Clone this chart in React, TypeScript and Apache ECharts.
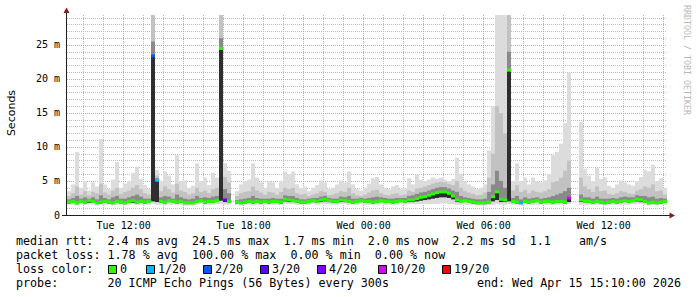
import React, { useEffect, useRef } from "react";
import * as echarts from "echarts";

// ---- time base: minutes relative to Tue 12:00, one sample every 12 min ----
const STEP_MIN = 12;
const FIRST_SAMPLE_MIN = -170; // Tue 09:10
const X_MIN = -170;
const X_MAX = 1630; // Wed 15:10
const Y_MAX = 29.41;

// ---- round-trip times (ms) ----
const rttMedian = [
  1.9, 2.0, 1.8, 2.0, 1.9, 2.1, 2.0, 1.8, 1.9, 2.0,
  1.9, 1.8, 2.0, 1.9, 1.8, 2.0, 2.1, 1.9, 2.0, 1.9,
  2.0, 23.4, 5.1, 2.0, 1.9, 2.1, 2.0, 1.9, 2.0, 1.8,
  1.8, 1.8, 2.0, 2.1, 1.9, 2.0, 2.0, 2.1, 24.5, 2.2,
  2.0, null, 1.9, 1.8, 1.9, 2.0, 1.9, 2.0, 1.9, 2.0,
  1.9, 2.0, 2.0, 1.9, 2.3, 2.2, 2.1, 2.0, 1.9, 1.9,
  2.0, 2.1, 2.0, 2.2, 2.3, 2.1, 2.0, 2.0, 2.2, 2.1,
  2.0, 1.9, 2.0, 2.1, 2.0, 2.0, 1.9, 2.0, 2.1, 2.0,
  2.0, 1.9, 2.0, 2.1, 2.0, 2.2, 2.2, 2.4, 2.6, 2.7,
  2.9, 3.1, 3.3, 3.4, 3.4, 3.2, 2.8, 2.2, 2.0, 2.1,
  2.0, 1.9, 1.8, 1.8, 1.8, 1.9, 2.7, 3.4, 2.3, 2.2,
  21.3, 2.0, 1.9, 1.8, 2.0, 1.9, 2.0, 2.1, 1.9, 2.0,
  2.0, 1.9, 2.0, 2.0, 1.9, 2.5, null, null, 2.2, 2.0,
  2.0, 1.9, 2.0, 1.9, 1.8, 1.9, 2.0, 1.9, 2.0, 2.1,
  2.0, 2.1, 2.3, 2.2, 2.0, 1.8, 1.9, 1.8, 1.9, 2.0,
];
const rttMin = [
  1.5, 1.5, 1.4, 1.5, 1.5, 1.6, 1.5, 1.4, 1.5, 1.5,
  1.5, 1.4, 1.5, 1.5, 1.4, 1.5, 1.6, 1.5, 1.5, 1.5,
  1.5, 1.6, 1.5, 1.5, 1.4, 1.5, 1.5, 1.5, 1.5, 1.4,
  1.4, 1.4, 1.5, 1.6, 1.5, 1.5, 1.5, 1.6, 1.6, 1.5,
  1.5, null, 1.5, 1.4, 1.5, 1.5, 1.4, 1.5, 1.5, 1.5,
  1.5, 1.5, 1.5, 1.5, 1.6, 1.6, 1.6, 1.5, 1.5, 1.5,
  1.5, 1.6, 1.5, 1.6, 1.6, 1.6, 1.5, 1.5, 1.6, 1.6,
  1.5, 1.5, 1.5, 1.6, 1.5, 1.5, 1.5, 1.5, 1.6, 1.5,
  1.5, 1.5, 1.5, 1.6, 1.5, 1.6, 1.6, 1.6, 1.6, 1.6,
  1.6, 1.6, 1.6, 1.7, 1.7, 1.6, 1.6, 1.5, 1.5, 1.5,
  1.5, 1.5, 1.4, 1.4, 1.4, 1.5, 1.5, 1.6, 1.5, 1.5,
  1.6, 1.5, 1.5, 1.4, 1.5, 1.5, 1.5, 1.5, 1.5, 1.5,
  1.5, 1.5, 1.5, 1.5, 1.5, 1.6, null, null, 1.5, 1.5,
  1.5, 1.5, 1.5, 1.5, 1.4, 1.5, 1.5, 1.5, 1.5, 1.5,
  1.5, 1.6, 1.6, 1.6, 1.5, 1.4, 1.5, 1.4, 1.5, 1.5,
];
const rttP25 = [
  1.7, 1.8, 1.6, 1.8, 1.7, 1.8, 1.8, 1.6, 1.7, 1.8,
  1.7, 1.6, 1.8, 1.7, 1.6, 1.8, 1.8, 1.7, 1.8, 1.7,
  1.8, 2.0, 1.9, 1.8, 1.7, 1.9, 1.8, 1.7, 1.8, 1.6,
  1.6, 1.6, 1.8, 1.9, 1.7, 1.8, 1.8, 1.9, 2.1, 1.9,
  1.8, null, 1.7, 1.6, 1.7, 1.8, 1.7, 1.8, 1.7, 1.8,
  1.7, 1.8, 1.8, 1.7, 2.0, 1.9, 1.9, 1.8, 1.7, 1.7,
  1.8, 1.9, 1.8, 1.9, 2.0, 1.9, 1.8, 1.8, 1.9, 1.9,
  1.8, 1.7, 1.8, 1.9, 1.8, 1.8, 1.7, 1.8, 1.9, 1.8,
  1.8, 1.7, 1.8, 1.9, 1.8, 1.9, 1.9, 2.0, 2.1, 2.2,
  2.3, 2.4, 2.5, 2.6, 2.6, 2.5, 2.3, 1.9, 1.8, 1.9,
  1.8, 1.7, 1.6, 1.6, 1.6, 1.7, 2.0, 2.2, 1.9, 1.9,
  2.0, 1.8, 1.7, 1.6, 1.8, 1.7, 1.8, 1.9, 1.7, 1.8,
  1.8, 1.7, 1.8, 1.8, 1.7, 1.9, null, null, 1.9, 1.8,
  1.8, 1.7, 1.8, 1.7, 1.6, 1.7, 1.8, 1.7, 1.8, 1.9,
  1.8, 1.9, 2.0, 1.9, 1.8, 1.6, 1.7, 1.6, 1.7, 1.8,
];
const rttP75 = [
  2.3, 2.5, 2.8, 2.4, 2.6, 2.4, 2.6, 2.3, 2.9, 2.5,
  2.3, 2.6, 2.8, 2.4, 2.4, 2.6, 2.8, 3.0, 2.7, 2.4,
  2.4, 25.5, 5.4, 2.6, 2.8, 2.7, 2.4, 3.0, 2.6, 2.4,
  2.3, 2.4, 2.8, 2.5, 2.6, 2.5, 2.7, 2.8, 26.0, 3.8,
  3.2, null, 2.2, 2.3, 2.4, 2.5, 2.8, 2.5, 2.4, 2.4,
  2.4, 2.5, 2.4, 2.4, 2.9, 2.8, 2.8, 2.5, 2.3, 2.3,
  2.4, 2.5, 2.5, 2.7, 2.8, 2.5, 2.4, 2.4, 2.7, 2.6,
  2.8, 2.4, 2.4, 2.5, 2.4, 2.5, 2.6, 2.7, 2.6, 2.5,
  2.4, 2.4, 2.5, 2.5, 2.5, 2.8, 2.9, 3.1, 3.3, 3.4,
  3.6, 3.8, 4.0, 4.1, 4.1, 3.9, 3.6, 3.4, 2.8, 2.6,
  2.5, 2.4, 2.3, 2.3, 2.4, 3.4, 4.5, 6.5, 5.0, 4.0,
  24.0, 2.5, 2.8, 2.3, 2.6, 2.4, 2.5, 2.6, 2.4, 2.5,
  2.6, 2.8, 3.0, 3.2, 3.5, 4.0, null, null, 3.0, 2.6,
  2.6, 2.4, 2.7, 2.4, 2.4, 2.4, 2.5, 2.4, 2.6, 2.7,
  2.6, 2.6, 2.9, 2.8, 2.8, 2.6, 2.7, 2.4, 2.5, 2.4,
];
const rttP90 = [
  2.8, 3.2, 4.2, 3.0, 3.5, 2.9, 3.4, 3.2, 4.6, 3.3,
  3.0, 3.6, 4.0, 3.1, 3.4, 3.6, 4.0, 4.4, 3.8, 3.2,
  3.0, 29.4, 5.8, 3.5, 4.2, 3.8, 3.3, 4.6, 3.6, 3.4,
  3.0, 3.2, 4.0, 3.4, 3.6, 3.2, 3.8, 4.0, 29.4, 5.6,
  4.8, null, 2.8, 3.2, 3.4, 3.5, 4.2, 3.6, 3.3, 3.0,
  3.4, 3.3, 3.0, 3.4, 4.0, 3.8, 4.0, 3.2, 3.0, 3.1,
  2.8, 3.0, 3.2, 3.5, 3.4, 2.9, 3.0, 3.2, 3.5, 3.4,
  4.0, 3.2, 2.9, 2.8, 3.0, 3.3, 3.6, 3.7, 3.2, 3.0,
  2.9, 3.1, 3.2, 2.9, 3.0, 3.6, 3.4, 3.9, 4.0, 4.2,
  4.4, 4.6, 4.8, 4.9, 4.8, 4.6, 4.4, 5.0, 4.0, 3.5,
  3.3, 3.1, 2.9, 3.0, 3.3, 5.5, 9.0, 16.0, 15.0, 12.0,
  29.4, 3.6, 4.4, 3.4, 3.7, 3.2, 3.6, 3.4, 3.3, 3.5,
  3.8, 4.8, 5.0, 5.5, 6.5, 8.0, null, null, 5.5, 4.2,
  3.8, 3.4, 4.2, 3.5, 3.6, 3.1, 3.0, 3.2, 3.5, 3.4,
  3.2, 3.1, 3.6, 3.8, 4.2, 4.0, 4.5, 3.5, 3.6, 3.0,
];
const rttMax = [
  3.5, 4.5, 9.3, 4.0, 5.0, 3.6, 4.8, 4.2, 11.2, 4.5,
  3.8, 5.2, 7.8, 4.0, 4.6, 5.0, 6.2, 7.1, 5.3, 4.4,
  3.8, 30.0, 6.6, 5.0, 6.4, 5.8, 4.5, 8.8, 5.0, 5.1,
  4.0, 4.3, 7.6, 5.0, 5.5, 4.4, 6.2, 5.5, 30.0, 7.6,
  6.5, null, 3.5, 4.5, 5.0, 5.2, 7.6, 5.5, 4.8, 4.0,
  5.0, 4.8, 4.0, 5.0, 6.4, 6.0, 6.4, 4.5, 4.0, 4.2,
  3.5, 4.0, 4.4, 5.1, 4.8, 3.8, 4.0, 4.5, 5.1, 4.8,
  6.4, 4.5, 3.8, 3.6, 4.0, 4.6, 5.4, 5.6, 4.5, 4.0,
  3.8, 4.2, 4.4, 3.8, 4.0, 5.4, 4.5, 5.9, 5.2, 5.0,
  5.2, 5.5, 5.3, 5.5, 5.2, 5.0, 5.3, 8.4, 6.0, 5.0,
  4.5, 4.2, 3.8, 4.0, 4.5, 9.5, 16.0, 30.0, 30.0, 30.0,
  30.0, 5.0, 7.6, 5.0, 5.5, 4.5, 5.5, 5.0, 4.8, 5.1,
  6.0, 8.8, 9.3, 10.5, 13.5, 20.9, null, null, 13.7, 6.8,
  5.8, 5.0, 6.9, 5.3, 5.5, 4.3, 4.0, 4.5, 5.1, 4.8,
  4.5, 4.3, 5.0, 5.6, 6.6, 6.4, 7.4, 5.0, 5.4, 4.0,
];
// [sample index, lost pings out of 20]
const lossEvents = [
  [21, 2],
  [22, 1],
  [39, 3],
  [113, 1],
  [125, 10],
];

// ---- axes ----
const xLabelValues = [0, 360, 720, 1080, 1440];
const xLabels = ["Tue 12:00", "Tue 18:00", "Wed 00:00", "Wed 06:00", "Wed 12:00"];
const yLabelValues = [0, 5, 10, 15, 20, 25];
const yLabels = ["0", "5 m", "10 m", "15 m", "20 m", "25 m"];

// ---- legend ----
const lossLegendLabels = ["0", "1/20", "2/20", "3/20", "4/20", "10/20", "19/20"];
const lossLegendColors = ["#26ff00", "#00b8ff", "#0059ff", "#5e00ff", "#7e00ff", "#dd00ff", "#ff0000"];
const legendLine1 = "median rtt:  2.4 ms avg  24.5 ms max  1.7 ms min  2.0 ms now  2.2 ms sd  1.1    am/s";
const legendLine2 = "packet loss: 1.78 % avg  100.00 % max  0.00 % min  0.00 % now";
const legendLine3 = "loss color:";
const legendLine4 = "probe:       20 ICMP Echo Pings (56 Bytes) every 300s";
const legendEnd = "end: Wed Apr 15 15:10:00 2026";

// layout (pixels)
const LOSS_BOX_X = [108, 146, 203, 260, 317, 378, 442];
const MONO = "DejaVu Sans Mono";
const C_LIGHT = "#dcdcdc";
const C_MID = "#c2c2c2";
const C_DARK = "#8a8a8a";
const C_CORE = "#2e2e2e";

function lossColor(loss: number) {
  if (loss <= 0) return lossLegendColors[0];
  if (loss === 1) return lossLegendColors[1];
  if (loss === 2) return lossLegendColors[2];
  if (loss === 3) return lossLegendColors[3];
  if (loss < 10) return lossLegendColors[4];
  if (loss < 19) return lossLegendColors[5];
  return lossLegendColors[6];
}

export default function App() {
  const ref = useRef<HTMLDivElement>(null);

  useEffect(() => {
    document.body.style.margin = "0";
    if (!ref.current) return;
    const chart = echarts.init(ref.current, null, { renderer: "svg" });

    const lossMap = new Map<number, number>();
    lossEvents.forEach(([i, l]) => lossMap.set(i, l));

    const data: number[][] = [];
    for (let k = 0; k < rttMedian.length; k++) {
      const m = rttMedian[k];
      if (m == null) continue;
      data.push([
        FIRST_SAMPLE_MIN + k * STEP_MIN,
        rttMin[k] as number,
        rttP25[k] as number,
        m,
        rttP75[k] as number,
        rttP90[k] as number,
        rttMax[k] as number,
        lossMap.get(k) ?? 0,
      ]);
    }

    const hourTicks: number[] = [];
    for (let m = -120; m <= X_MAX; m += 60) if (m % 180 !== 0) hourTicks.push(m);
    const majorTicks: number[] = [];
    for (let m = 0; m <= X_MAX; m += 180) majorTicks.push(m);
    const msTicks: number[] = [];
    for (let v = 1; v < Y_MAX; v += 1) if (v % 5 !== 0) msTicks.push(v);

    const gridStyle = { color: "#bdbdbd", width: 1, type: [1, 1] as any };
    const mgridStyle = { color: "#e89a9a", width: 1, type: [1, 1] as any };

    const smokeRender = (params: any, api: any) => {
      const t = api.value(0);
      const cs = params.coordSys;
      const x0 = api.coord([t, 0])[0];
      const x1 = api.coord([t + STEP_MIN, 0])[0];
      const Y = (v: number) => Math.max(cs.y, api.coord([t, v])[1]);
      const band = (lo: number, hi: number, fill: string) => {
        const ya = Y(hi);
        const yb = Y(lo);
        return {
          type: "rect",
          shape: { x: x0, y: ya, width: x1 - x0, height: Math.max(0, yb - ya) },
          style: { fill },
        };
      };
      return {
        type: "group",
        children: [
          band(api.value(1), api.value(6), C_LIGHT),
          band(api.value(2), api.value(5), C_MID),
          band(api.value(3), api.value(4), C_DARK),
          band(api.value(2), api.value(3), C_CORE),
        ],
      };
    };

    const medianRender = (params: any, api: any) => {
      const t = api.value(0);
      const x0 = api.coord([t, 0])[0];
      const x1 = api.coord([t + STEP_MIN, 0])[0];
      const y = api.coord([t, api.value(3)])[1];
      return {
        type: "rect",
        shape: { x: x0, y: y - 1.5, width: x1 - x0, height: 3 },
        style: { fill: lossColor(api.value(7)) },
      };
    };

    const graphics: any[] = [
      // axes
      { type: "line", z: 100, shape: { x1: 62, y1: 215.5, x2: 670, y2: 215.5 }, style: { stroke: "#1f1f1f", lineWidth: 1 } },
      { type: "line", z: 100, shape: { x1: 66.5, y1: 216, x2: 66.5, y2: 12 }, style: { stroke: "#1f1f1f", lineWidth: 1 } },
      { type: "polygon", z: 101, shape: { points: [[66.5, 7.5], [63.5, 13], [69.5, 13]] }, style: { fill: "#801f1f" } },
      { type: "polygon", z: 101, shape: { points: [[675, 215.5], [669.5, 212.5], [669.5, 218.5]] }, style: { fill: "#801f1f" } },
      // titles
      {
        type: "text", z: 100, x: 11, y: 113, rotation: Math.PI / 2,
        style: { text: "Seconds", fontFamily: "DejaVu Sans", fontSize: 11, fill: "#000", align: "center", verticalAlign: "middle" },
      },
      {
        type: "text", z: 100, x: 687, y: 5, rotation: -Math.PI / 2,
        style: { text: "RRDTOOL / TOBI OETIKER", fontFamily: MONO, fontSize: 8.3, fill: "#b8b8b8", align: "left", verticalAlign: "middle" },
      },
    ];
    const legendText = (text: string, x: number, y: number, align = "left") => ({
      type: "text", z: 100, x, y,
      style: { text, fontFamily: MONO, fontSize: 11.7, fill: "#000", align, verticalAlign: "middle" },
    });
    graphics.push(legendText(legendLine1, 16, 241));
    graphics.push(legendText(legendLine2, 16, 255));
    graphics.push(legendText(legendLine3, 16, 269));
    graphics.push(legendText(legendLine4, 16, 283));
    graphics.push(legendText(legendEnd, 681, 283, "right"));
    lossLegendLabels.forEach((lab, i) => {
      const bx = LOSS_BOX_X[i];
      graphics.push({
        type: "rect", z: 100,
        shape: { x: bx + 0.5, y: 265.5, width: 8, height: 8 },
        style: { fill: lossLegendColors[i], stroke: "#000", lineWidth: 1 },
      });
      graphics.push(legendText(lab, bx + 12, 269));
    });

    const hiddenAxisBits = {
      axisLine: { show: false },
      axisLabel: { show: false },
    };

    chart.setOption({
      animation: false,
      backgroundColor: "#ffffff",
      grid: { left: 67, top: 15, width: 600, height: 200, containLabel: false },
      xAxis: [
        {
          type: "value", min: X_MIN, max: X_MAX, z: 0,
          axisLine: { show: false },
          axisTick: { show: false, customValues: hourTicks },
          axisLabel: {
            show: true,
            customValues: xLabelValues,
            formatter: (v: number) => xLabels[xLabelValues.indexOf(v)] ?? "",
            fontFamily: MONO, fontSize: 10, color: "#000", margin: 5,
          },
          splitLine: { show: true, lineStyle: gridStyle },
        },
        {
          type: "value", min: X_MIN, max: X_MAX, z: 0, position: "bottom",
          ...hiddenAxisBits,
          axisTick: { show: false, customValues: majorTicks },
          splitLine: { show: true, lineStyle: mgridStyle },
        },
      ],
      yAxis: [
        {
          type: "value", min: 0, max: Y_MAX, z: 0,
          axisLine: { show: false },
          axisTick: { show: false, customValues: [5, 10, 15, 20, 25] },
          axisLabel: {
            show: true,
            customValues: yLabelValues,
            formatter: (v: number) => yLabels[yLabelValues.indexOf(v)] ?? "",
            fontFamily: MONO, fontSize: 10, color: "#000", margin: 7,
          },
          splitLine: { show: true, lineStyle: mgridStyle },
        },
        {
          type: "value", min: 0, max: Y_MAX, z: 0, position: "left",
          ...hiddenAxisBits,
          axisTick: { show: false, customValues: msTicks },
          splitLine: { show: true, lineStyle: gridStyle },
        },
      ],
      series: [
        {
          type: "custom", name: "smoke", xAxisIndex: 0, yAxisIndex: 0, z: 2,
          clip: true, silent: true, renderItem: smokeRender, data,
          encode: { x: 0, y: [1, 6] },
        },
        {
          type: "custom", name: "median", xAxisIndex: 0, yAxisIndex: 0, z: 5,
          clip: true, silent: true, renderItem: medianRender, data,
          encode: { x: 0, y: 3 },
        },
      ],
      graphic: graphics,
    });

    return () => chart.dispose();
  }, []);

  return <div ref={ref} style={{ width: 697, height: 297 }} />;
}
